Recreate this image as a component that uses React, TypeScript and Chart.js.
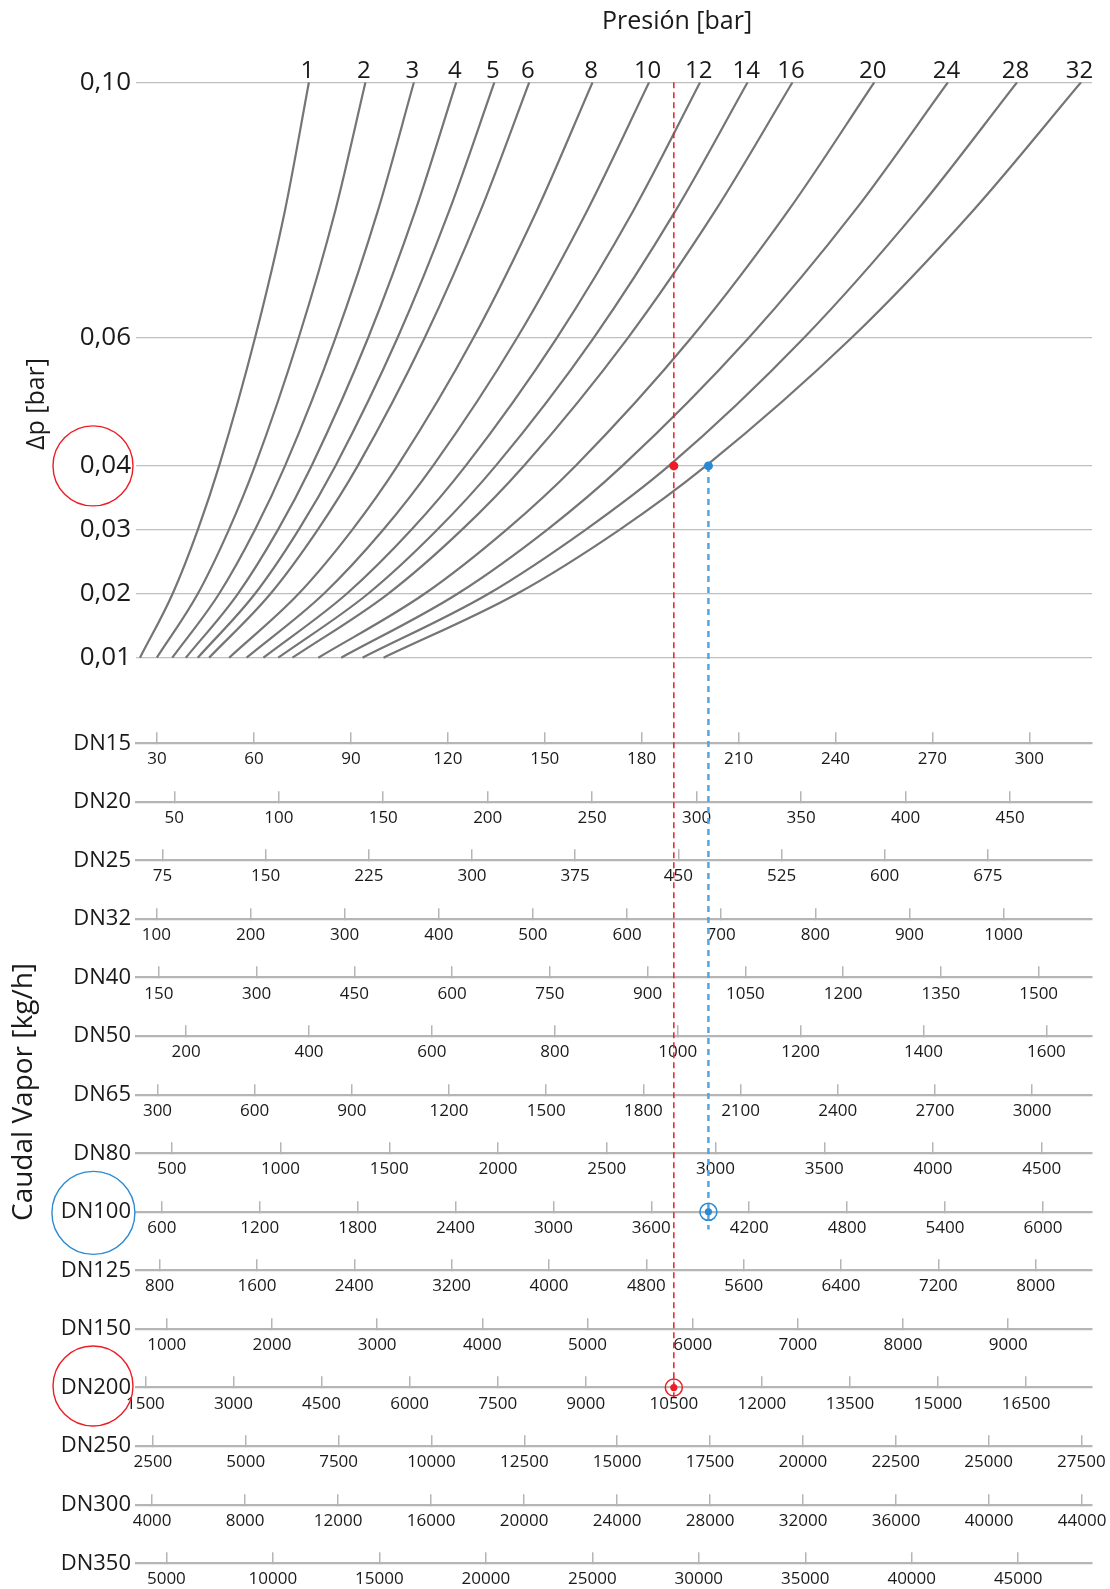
import React, { useEffect, useRef } from 'react';
import { Chart, registerables } from 'chart.js';

Chart.register(...registerables);

// ---------------- data ----------------
const PRESSURES = [1, 2, 3, 4, 5, 6, 8, 10, 12, 14, 16, 20, 24, 28, 32];
const DP_LEVELS = [0.01, 0.02, 0.03, 0.04, 0.06, 0.08, 0.1];
const DP_TICKS = [0.01, 0.02, 0.03, 0.04, 0.06, 0.1];

// flow read on the DN15 scale [kg/h] where each pressure curve crosses each Δp level
const FLOW_1 = [24.7, 34.8, 42.6, 49.2, 60.3, 69.6, 77.0];
const FLOW_2 = [29.9, 42.6, 52.2, 60.3, 73.8, 85.2, 94.5];
const FLOW_3 = [34.7, 49.2, 60.3, 69.6, 85.2, 98.4, 109.5];
const FLOW_4 = [38.9, 55.0, 67.4, 77.8, 95.3, 110.0, 122.6];
const FLOW_5 = [42.6, 60.3, 73.8, 85.2, 104.4, 120.5, 134.4];
const FLOW_6 = [46.1, 65.1, 79.7, 92.1, 112.8, 130.2, 145.2];
const FLOW_8 = [52.3, 73.8, 90.4, 104.4, 127.9, 147.6, 164.8];
const FLOW_10 = [57.7, 81.6, 100.0, 115.4, 141.4, 163.2, 182.3];
const FLOW_12 = [62.9, 88.7, 108.7, 125.5, 153.7, 177.5, 198.1];
const FLOW_14 = [67.5, 95.3, 116.7, 134.8, 165.1, 190.6, 212.8];
const FLOW_16 = [71.9, 101.5, 124.3, 143.5, 175.7, 202.9, 226.7];
const FLOW_20 = [79.9, 112.8, 138.1, 159.5, 195.3, 225.5, 252.0];
const FLOW_24 = [87.0, 123.0, 150.7, 174.0, 213.1, 246.1, 274.8];
const FLOW_28 = [93.6, 132.6, 162.6, 188.4, 230.2, 265.3, 296.2];
const FLOW_32 = [100.1, 141.4, 173.1, 199.9, 244.9, 282.7, 316.0];
const CURVES = [FLOW_1, FLOW_2, FLOW_3, FLOW_4, FLOW_5, FLOW_6, FLOW_8, FLOW_10, FLOW_12, FLOW_14, FLOW_16, FLOW_20, FLOW_24, FLOW_28, FLOW_32];

const DN_NAMES = ['DN15', 'DN20', 'DN25', 'DN32', 'DN40', 'DN50', 'DN65', 'DN80', 'DN100', 'DN125', 'DN150', 'DN200', 'DN250', 'DN300', 'DN350'];
const TICKS_DN15 = [30, 60, 90, 120, 150, 180, 210, 240, 270, 300];
const TICKS_DN20 = [50, 100, 150, 200, 250, 300, 350, 400, 450];
const TICKS_DN25 = [75, 150, 225, 300, 375, 450, 525, 600, 675];
const TICKS_DN32 = [100, 200, 300, 400, 500, 600, 700, 800, 900, 1000];
const TICKS_DN40 = [150, 300, 450, 600, 750, 900, 1050, 1200, 1350, 1500];
const TICKS_DN50 = [200, 400, 600, 800, 1000, 1200, 1400, 1600];
const TICKS_DN65 = [300, 600, 900, 1200, 1500, 1800, 2100, 2400, 2700, 3000];
const TICKS_DN80 = [500, 1000, 1500, 2000, 2500, 3000, 3500, 4000, 4500];
const TICKS_DN100 = [600, 1200, 1800, 2400, 3000, 3600, 4200, 4800, 5400, 6000];
const TICKS_DN125 = [800, 1600, 2400, 3200, 4000, 4800, 5600, 6400, 7200, 8000];
const TICKS_DN150 = [1000, 2000, 3000, 4000, 5000, 6000, 7000, 8000, 9000];
const TICKS_DN200 = [1500, 3000, 4500, 6000, 7500, 9000, 10500, 12000, 13500, 15000, 16500];
const TICKS_DN250 = [2500, 5000, 7500, 10000, 12500, 15000, 17500, 20000, 22500, 25000, 27500];
const TICKS_DN300 = [4000, 8000, 12000, 16000, 20000, 24000, 28000, 32000, 36000, 40000, 44000];
const TICKS_DN350 = [5000, 10000, 15000, 20000, 25000, 30000, 35000, 40000, 45000];
const DN_TICKS = [TICKS_DN15, TICKS_DN20, TICKS_DN25, TICKS_DN32, TICKS_DN40, TICKS_DN50, TICKS_DN65, TICKS_DN80, TICKS_DN100, TICKS_DN125, TICKS_DN150, TICKS_DN200, TICKS_DN250, TICKS_DN300, TICKS_DN350];
// flow at the left and right edge of each DN scale
const DN_MIN = [23.47, 31.67, 55.74, 78.33, 114.86, 118.5, 233.6, 335.4, 441.9, 606, 707.2, 1339.9, 2045, 3307.5, 3572.4];
const DN_MAX = [319.4, 489.2, 750.7, 1093.9, 1581.9, 1674.2, 3184.9, 4730.8, 6300.8, 8462.7, 9796.8, 17622.5, 27785, 44425.8, 48465.6];

// worked examples
const EX_DP = 0.04;
const EX_RED_ROW = 11; // DN200
const EX_RED_FLOW = 10500;
const EX_BLUE_ROW = 8; // DN100
const EX_BLUE_FLOW = 3950;

// ---------------- layout / style ----------------
const W = 1110;
const H = 1589;
const LEFT_PX = 136;
const RIGHT_PAD = 18;
const TOP_PX = 82.3;
const BOTTOM_PX = 1563.3;
const DP01_PX = 657.7;
const ROW0_PX = 743.3;
const ROW_STEP_PX = 58.57;
const PX_PER_DP = (DP01_PX - TOP_PX) / 0.09;
const Y_MAX = 0.1;
const Y_MIN = Y_MAX - (BOTTOM_PX - TOP_PX) / PX_PER_DP;
const YR_MIN = -(ROW0_PX - TOP_PX) / ROW_STEP_PX;
const YR_MAX = (BOTTOM_PX - ROW0_PX) / ROW_STEP_PX;
const dpOfRow = (r: number) => Y_MAX - (ROW0_PX + r * ROW_STEP_PX - TOP_PX) / PX_PER_DP;

const FONT = '"Open Sans", "DejaVu Sans", Arial, sans-serif';
const TEXT = '#1a1a1a';
const CURVE = '#757575';
const GRID = '#bfbfbf';
const AXIS_LINE = '#b5b5b5';
const RED = '#ee1c25';
const BLUE = '#2a8ad4';
const BLUE_DASH = '#55a5de';

const NDP = DP_TICKS.length;

const overlayPlugin = {
  id: 'overlay',
  afterDraw(chart: any) {
    const ctx = chart.ctx as CanvasRenderingContext2D;
    const area = chart.chartArea;
    const y = chart.scales.y;
    const yr = chart.scales.yr;
    ctx.save();
    ctx.fillStyle = TEXT;
    // pressure labels at top of each curve
    ctx.font = `24px ${FONT}`;
    ctx.textAlign = 'center';
    ctx.textBaseline = 'alphabetic';
    PRESSURES.forEach((p, i) => {
      const meta = chart.getDatasetMeta(i);
      const pt = meta.data[meta.data.length - 1];
      ctx.fillText(String(p), pt.x - 1.5, area.top - 4);
    });
    // titles
    ctx.font = `25px ${FONT}`;
    ctx.fillText('Presión [bar]', 677, 28.5);
    ctx.save();
    ctx.translate(37, 404);
    ctx.rotate(-Math.PI / 2);
    ctx.textBaseline = 'middle';
    ctx.font = `25px ${FONT}`;
    ctx.fillText('Δp [bar]', 0, 0);
    ctx.restore();
    ctx.save();
    ctx.translate(24, 1092);
    ctx.rotate(-Math.PI / 2);
    ctx.textBaseline = 'middle';
    ctx.font = `28px ${FONT}`;
    ctx.fillText('Caudal Vapor [kg/h]', 0, 0);
    ctx.restore();
    // highlight circles
    ctx.lineWidth = 1.4;
    ctx.strokeStyle = RED;
    ctx.beginPath();
    ctx.arc(area.left - 43, y.getPixelForValue(EX_DP), 40, 0, Math.PI * 2);
    ctx.stroke();
    ctx.beginPath();
    ctx.arc(area.left - 43, yr.getPixelForValue(EX_RED_ROW) - 1.5, 40, 0, Math.PI * 2);
    ctx.stroke();
    ctx.strokeStyle = BLUE;
    ctx.beginPath();
    ctx.arc(area.left - 42.6, yr.getPixelForValue(EX_BLUE_ROW) + 1, 41.5, 0, Math.PI * 2);
    ctx.stroke();
    ctx.restore();
  },
};

export default function App() {
  const ref = useRef<HTMLCanvasElement>(null);
  useEffect(() => {
    document.body.style.margin = '0';
    const canvas = ref.current;
    if (!canvas) return;

    const scales: any = {
      y: {
        type: 'linear',
        position: 'left',
        min: Y_MIN,
        max: Y_MAX,
        afterBuildTicks: (s: any) => {
          s.ticks = [
            ...DP_TICKS.map((v) => ({ value: v })),
            ...DN_NAMES.map((_, i) => ({ value: dpOfRow(i) })),
          ];
        },
        afterFit: (s: any) => {
          s.width = LEFT_PX;
          s.paddingTop = 0;
          s.paddingBottom = 0;
        },
        grid: {
          color: (c: any) => (c.index < NDP ? GRID : 'rgba(0,0,0,0)'),
          lineWidth: 1.3,
          drawTicks: false,
        },
        border: { display: false },
        ticks: {
          padding: 5,
          autoSkip: false,
          color: TEXT,
          font: (c: any) => ({ family: FONT, size: c.index < NDP ? 26 : 22 }),
          callback: (v: any, index: number) =>
            index < NDP ? Number(v).toFixed(2).replace('.', ',') : DN_NAMES[index - NDP],
        },
      },
      yr: {
        type: 'linear',
        axis: 'y',
        position: 'left',
        display: false,
        reverse: true,
        min: YR_MIN,
        max: YR_MAX,
      },
    };

    DN_NAMES.forEach((_, i) => {
      scales['x' + i] = {
        type: 'linear',
        axis: 'x',
        position: { yr: i },
        min: DN_MIN[i],
        max: DN_MAX[i],
        afterBuildTicks: (s: any) => {
          s.ticks = DN_TICKS[i].map((v) => ({ value: v }));
        },
        afterFit: (s: any) => {
          s.paddingLeft = 0;
          s.paddingRight = 0;
          s.paddingTop = 0;
          s.paddingBottom = 0;
        },
        grid: { display: true, drawOnChartArea: false, drawTicks: true, tickLength: -12, color: AXIS_LINE, lineWidth: 1.5 },
        border: { display: true, color: AXIS_LINE, width: 2.2 },
        ticks: {
          autoSkip: false,
          maxRotation: 0,
          minRotation: 0,
          padding: 18,
          color: TEXT,
          font: { family: FONT, size: 17 },
          callback: (v: any) => String(v),
        },
      };
    });

    const curveSets = CURVES.map((flows, i) => ({
      label: `${PRESSURES[i]} bar`,
      data: flows.map((f, k) => ({ x: f, y: DP_LEVELS[k] })),
      xAxisID: 'x0',
      yAxisID: 'y',
      borderColor: CURVE,
      borderWidth: 2.2,
      pointRadius: 0,
      cubicInterpolationMode: 'monotone',
      fill: false,
      order: 3,
    }));

    const extraSets: any[] = [
      {
        label: 'red guide',
        data: [{ x: EX_RED_FLOW, y: Y_MAX }, { x: EX_RED_FLOW, y: dpOfRow(EX_RED_ROW + 0.16) }],
        xAxisID: 'x' + EX_RED_ROW,
        yAxisID: 'y',
        borderColor: RED,
        borderWidth: 1.5,
        borderDash: [6, 4],
        pointRadius: 0,
        order: 2,
      },
      {
        label: 'blue guide',
        data: [{ x: EX_BLUE_FLOW, y: EX_DP }, { x: EX_BLUE_FLOW, y: dpOfRow(EX_BLUE_ROW + 0.3) }],
        xAxisID: 'x' + EX_BLUE_ROW,
        yAxisID: 'y',
        borderColor: BLUE_DASH,
        borderWidth: 2.5,
        borderDash: [6, 5],
        pointRadius: 0,
        order: 2,
      },
      {
        label: 'red point',
        data: [{ x: EX_RED_FLOW, y: EX_DP }],
        xAxisID: 'x' + EX_RED_ROW,
        yAxisID: 'y',
        showLine: false,
        pointRadius: 4.5,
        pointBackgroundColor: RED,
        pointBorderWidth: 0,
        order: 0,
      },
      {
        label: 'blue point',
        data: [{ x: EX_BLUE_FLOW, y: EX_DP }],
        xAxisID: 'x' + EX_BLUE_ROW,
        yAxisID: 'y',
        showLine: false,
        pointRadius: 4.5,
        pointBackgroundColor: BLUE,
        pointBorderWidth: 0,
        order: 0,
      },
      {
        label: 'red result',
        data: [{ x: EX_RED_FLOW, y: EX_RED_ROW }],
        xAxisID: 'x' + EX_RED_ROW,
        yAxisID: 'yr',
        showLine: false,
        pointRadius: 3.6,
        pointBackgroundColor: RED,
        pointBorderWidth: 0,
        order: 0,
      },
      {
        label: 'red result ring',
        data: [{ x: EX_RED_FLOW, y: EX_RED_ROW }],
        xAxisID: 'x' + EX_RED_ROW,
        yAxisID: 'yr',
        showLine: false,
        pointRadius: 8.5,
        pointBackgroundColor: 'rgba(0,0,0,0)',
        pointBorderColor: RED,
        pointBorderWidth: 1.5,
        order: 0,
      },
      {
        label: 'blue result',
        data: [{ x: EX_BLUE_FLOW, y: EX_BLUE_ROW }],
        xAxisID: 'x' + EX_BLUE_ROW,
        yAxisID: 'yr',
        showLine: false,
        pointRadius: 3.6,
        pointBackgroundColor: BLUE,
        pointBorderWidth: 0,
        order: 0,
      },
      {
        label: 'blue result ring',
        data: [{ x: EX_BLUE_FLOW, y: EX_BLUE_ROW }],
        xAxisID: 'x' + EX_BLUE_ROW,
        yAxisID: 'yr',
        showLine: false,
        pointRadius: 8.5,
        pointBackgroundColor: 'rgba(0,0,0,0)',
        pointBorderColor: BLUE,
        pointBorderWidth: 1.5,
        order: 0,
      },
    ];

    const chart = new Chart(canvas, {
      type: 'line',
      data: { datasets: [...curveSets, ...extraSets] as any },
      options: {
        responsive: false,
        maintainAspectRatio: false,
        animation: false,
        devicePixelRatio: 1,
        layout: { padding: { top: TOP_PX, bottom: H - BOTTOM_PX, left: 0, right: RIGHT_PAD } },
        plugins: { legend: { display: false }, tooltip: { enabled: false }, title: { display: false } },
        events: [],
        scales,
      } as any,
      plugins: [overlayPlugin],
    });
    return () => chart.destroy();
  }, []);

  return (
    <div style={{ width: W, height: H, overflow: 'hidden' }}>
      <canvas ref={ref} width={W} height={H} style={{ display: 'block', width: W, height: H }} />
    </div>
  );
}
